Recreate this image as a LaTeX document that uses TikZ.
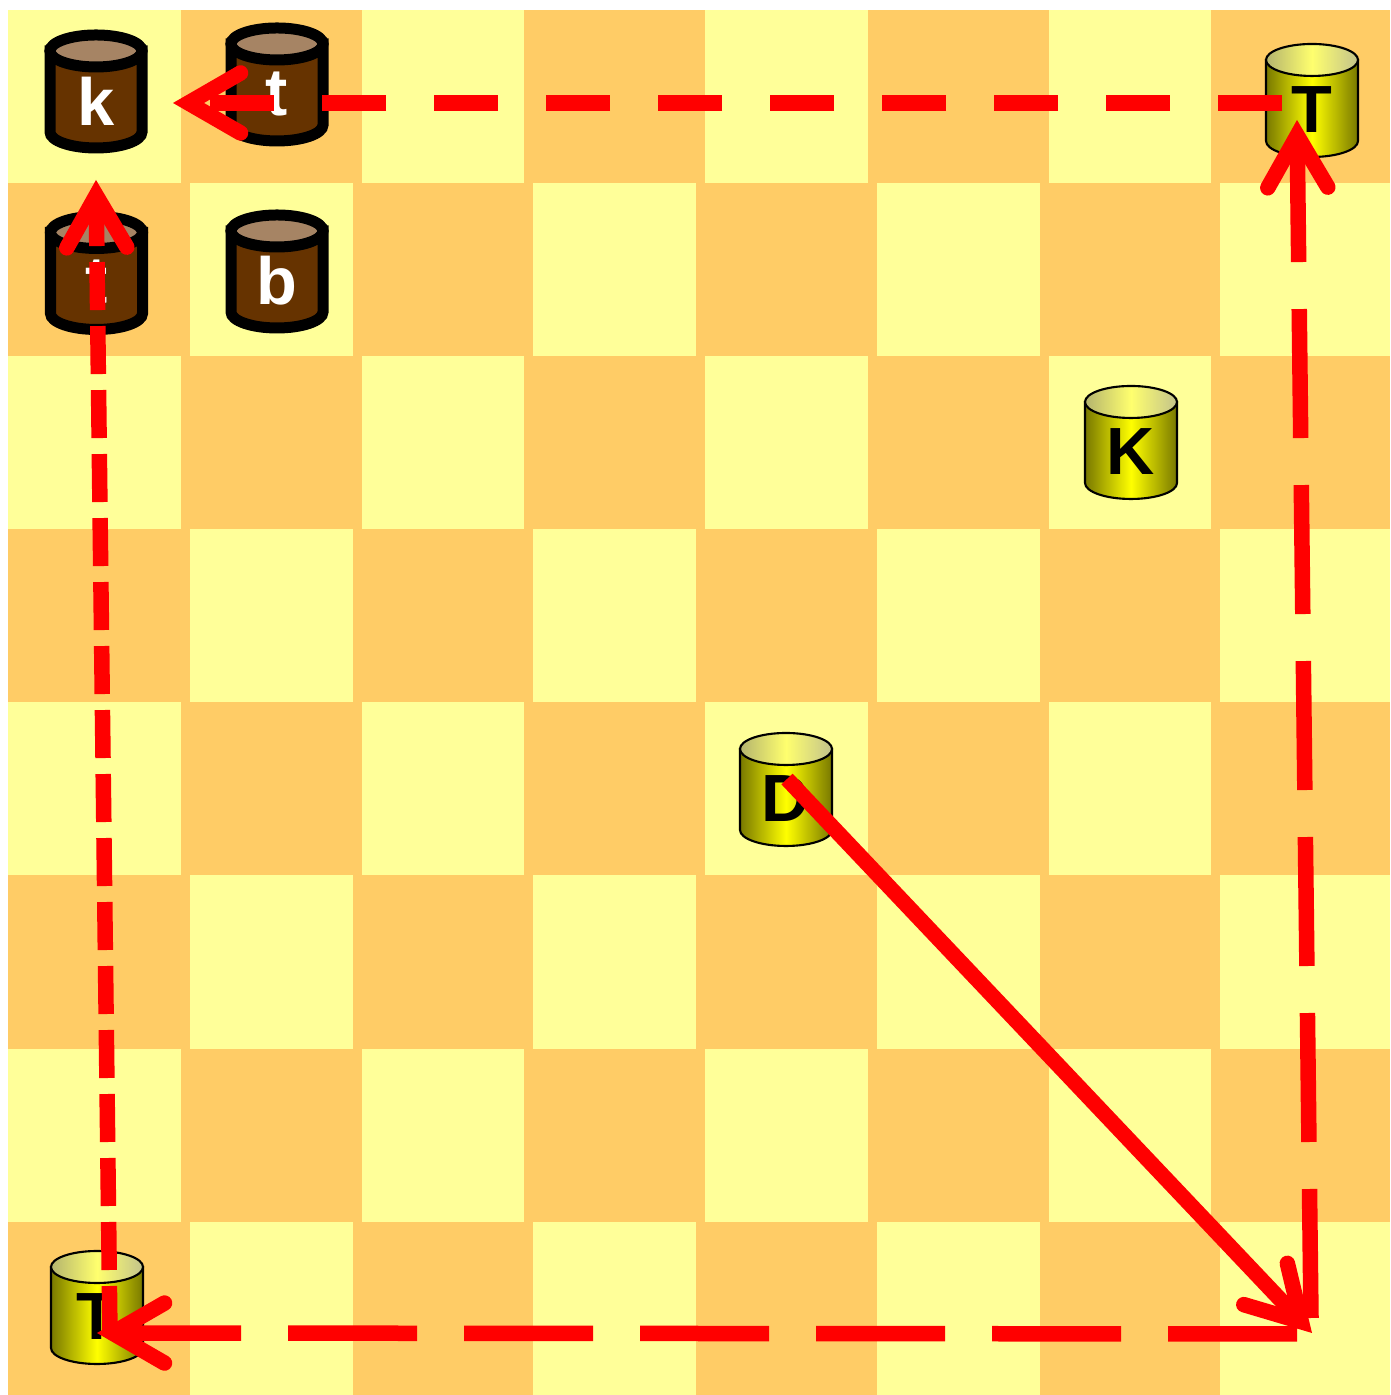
\documentclass[tikz,border=0pt]{standalone}
\usepackage{fontspec}
\setmainfont{Liberation Sans}
\usetikzlibrary{arrows.meta}

\definecolor{boardlight}{HTML}{FFFF99}
\definecolor{boarddark}{HTML}{FFCC66}
\definecolor{woodbody}{HTML}{663300}
\definecolor{woodtop}{HTML}{A68464}
\definecolor{goldside}{RGB}{120,120,0}
\definecolor{goldtopside}{RGB}{180,180,110}
\definecolor{goldtopmid}{RGB}{255,255,110}

\begin{document}
\begin{tikzpicture}[
    % barbed red tip, sharp point and round barb ends
    movetip/.tip={Straight Barb[line cap=round, line join=miter, length=0.52cm, width=0.6cm]},
    move/.style={red, line width=0.155cm, -movetip},
    % dash sizes differ from line to line
    shortdash/.style={move, dash pattern=on 0.64cm off 0.48cm},
    longdash/.style={move, dash pattern=on 1.29cm off 0.47cm},
    tightdash/.style={move, dash pattern=on 0.48cm off 0.16cm},
    woodpiece/.style={draw=black, line width=0.11cm, fill=woodbody},
    goldpiece/.style={draw=black, line width=0.6pt},
    piecelabel/.style={font=\fontsize{19}{19}\selectfont\bfseries, inner sep=0pt}
]
    \useasboundingbox (0,0) rectangle (13.9,13.95);
    \fill[white] (0,0) rectangle (13.9,13.95);

    % --- Board ---
    \fill[boarddark] (0.08,0) rectangle (13.9,13.85);
    \foreach \r in {0,...,7} {
        \foreach \c in {0,...,7} {
            \pgfmathtruncatemacro\odd{mod(\r+\c,2)}
            \ifnum\odd=0
                \pgfmathsetmacro\xl{\c==0 ? 0.08 : 0.183+1.717*\c}
                \pgfmathsetmacro\xr{\c==7 ? 13.9 : 1.81+1.717*\c}
                \fill[boardlight] (\xl,{13.85-1.731*\r}) rectangle (\xr,{13.85-1.731*(\r+1)});
            \fi
        }
    }

    % --- Dark pieces (x, top of cylinder, letter, name) ---
    \foreach \cx/\cy/\lab/\nm in {0.96/13.44/k/darkK, 2.77/13.51/t/darkRb,
                                  0.965/11.625/t/darkRa, 2.77/11.64/b/darkP} {
        \filldraw[woodpiece] (\cx-0.46,\cy) -- (\cx-0.46,\cy-0.81)
            arc[start angle=180, end angle=360, x radius=0.46, y radius=0.16]
            -- (\cx+0.46,\cy) -- cycle;
        \filldraw[woodpiece, fill=woodtop] (\cx,\cy) ellipse[x radius=0.46, y radius=0.16];
        \node[piecelabel, white] (\nm) at (\cx,\cy-0.5) {\lab};
    }

    % --- Light pieces ---
    \foreach \cx/\cy/\lab/\nm in {13.12/13.35/T/lightRh, 11.31/9.93/K/lightK,
                                  7.86/6.46/D/lightQ, 0.97/1.28/T/lightRa} {
        \shadedraw[goldpiece, left color=goldside, right color=goldside, middle color=yellow]
            (\cx-0.46,\cy) -- (\cx-0.46,\cy-0.81)
            arc[start angle=180, end angle=360, x radius=0.46, y radius=0.16]
            -- (\cx+0.46,\cy) -- cycle;
        \shadedraw[goldpiece, left color=goldtopside, right color=goldtopside!80!white, middle color=goldtopmid]
            (\cx,\cy) ellipse[x radius=0.46, y radius=0.16];
        \node[piecelabel, black] (\nm) at (\cx,\cy-0.5) {\lab};
    }

    % --- Move ends ---
    \coordinate (topFrom)    at (12.82,12.92);
    \coordinate (topTo)      at (1.73,12.92);
    \coordinate (rightFrom)  at (13.11,0.77);
    \coordinate (rightTo)    at (12.97,12.75);
    \coordinate (leftFrom)   at (1.10,0.61);
    \coordinate (leftTo)     at (0.96,12.15);
    \coordinate (bottomFrom) at (12.97,0.61);
    \coordinate (bottomTo)   at (0.97,0.62);
    \coordinate (diagFrom)   at (7.87,6.16);
    \coordinate (diagTo)     at (13.12,0.62);

    % --- Moves ---
    \draw[move] (diagFrom) -- (diagTo);
    \draw[longdash] (rightFrom) -- (rightTo);
    \draw[longdash] (bottomFrom) -- (bottomTo);
    \draw[tightdash] (leftFrom) -- (leftTo);
    \draw[shortdash] (topFrom) -- (topTo);
\end{tikzpicture}
\end{document}
